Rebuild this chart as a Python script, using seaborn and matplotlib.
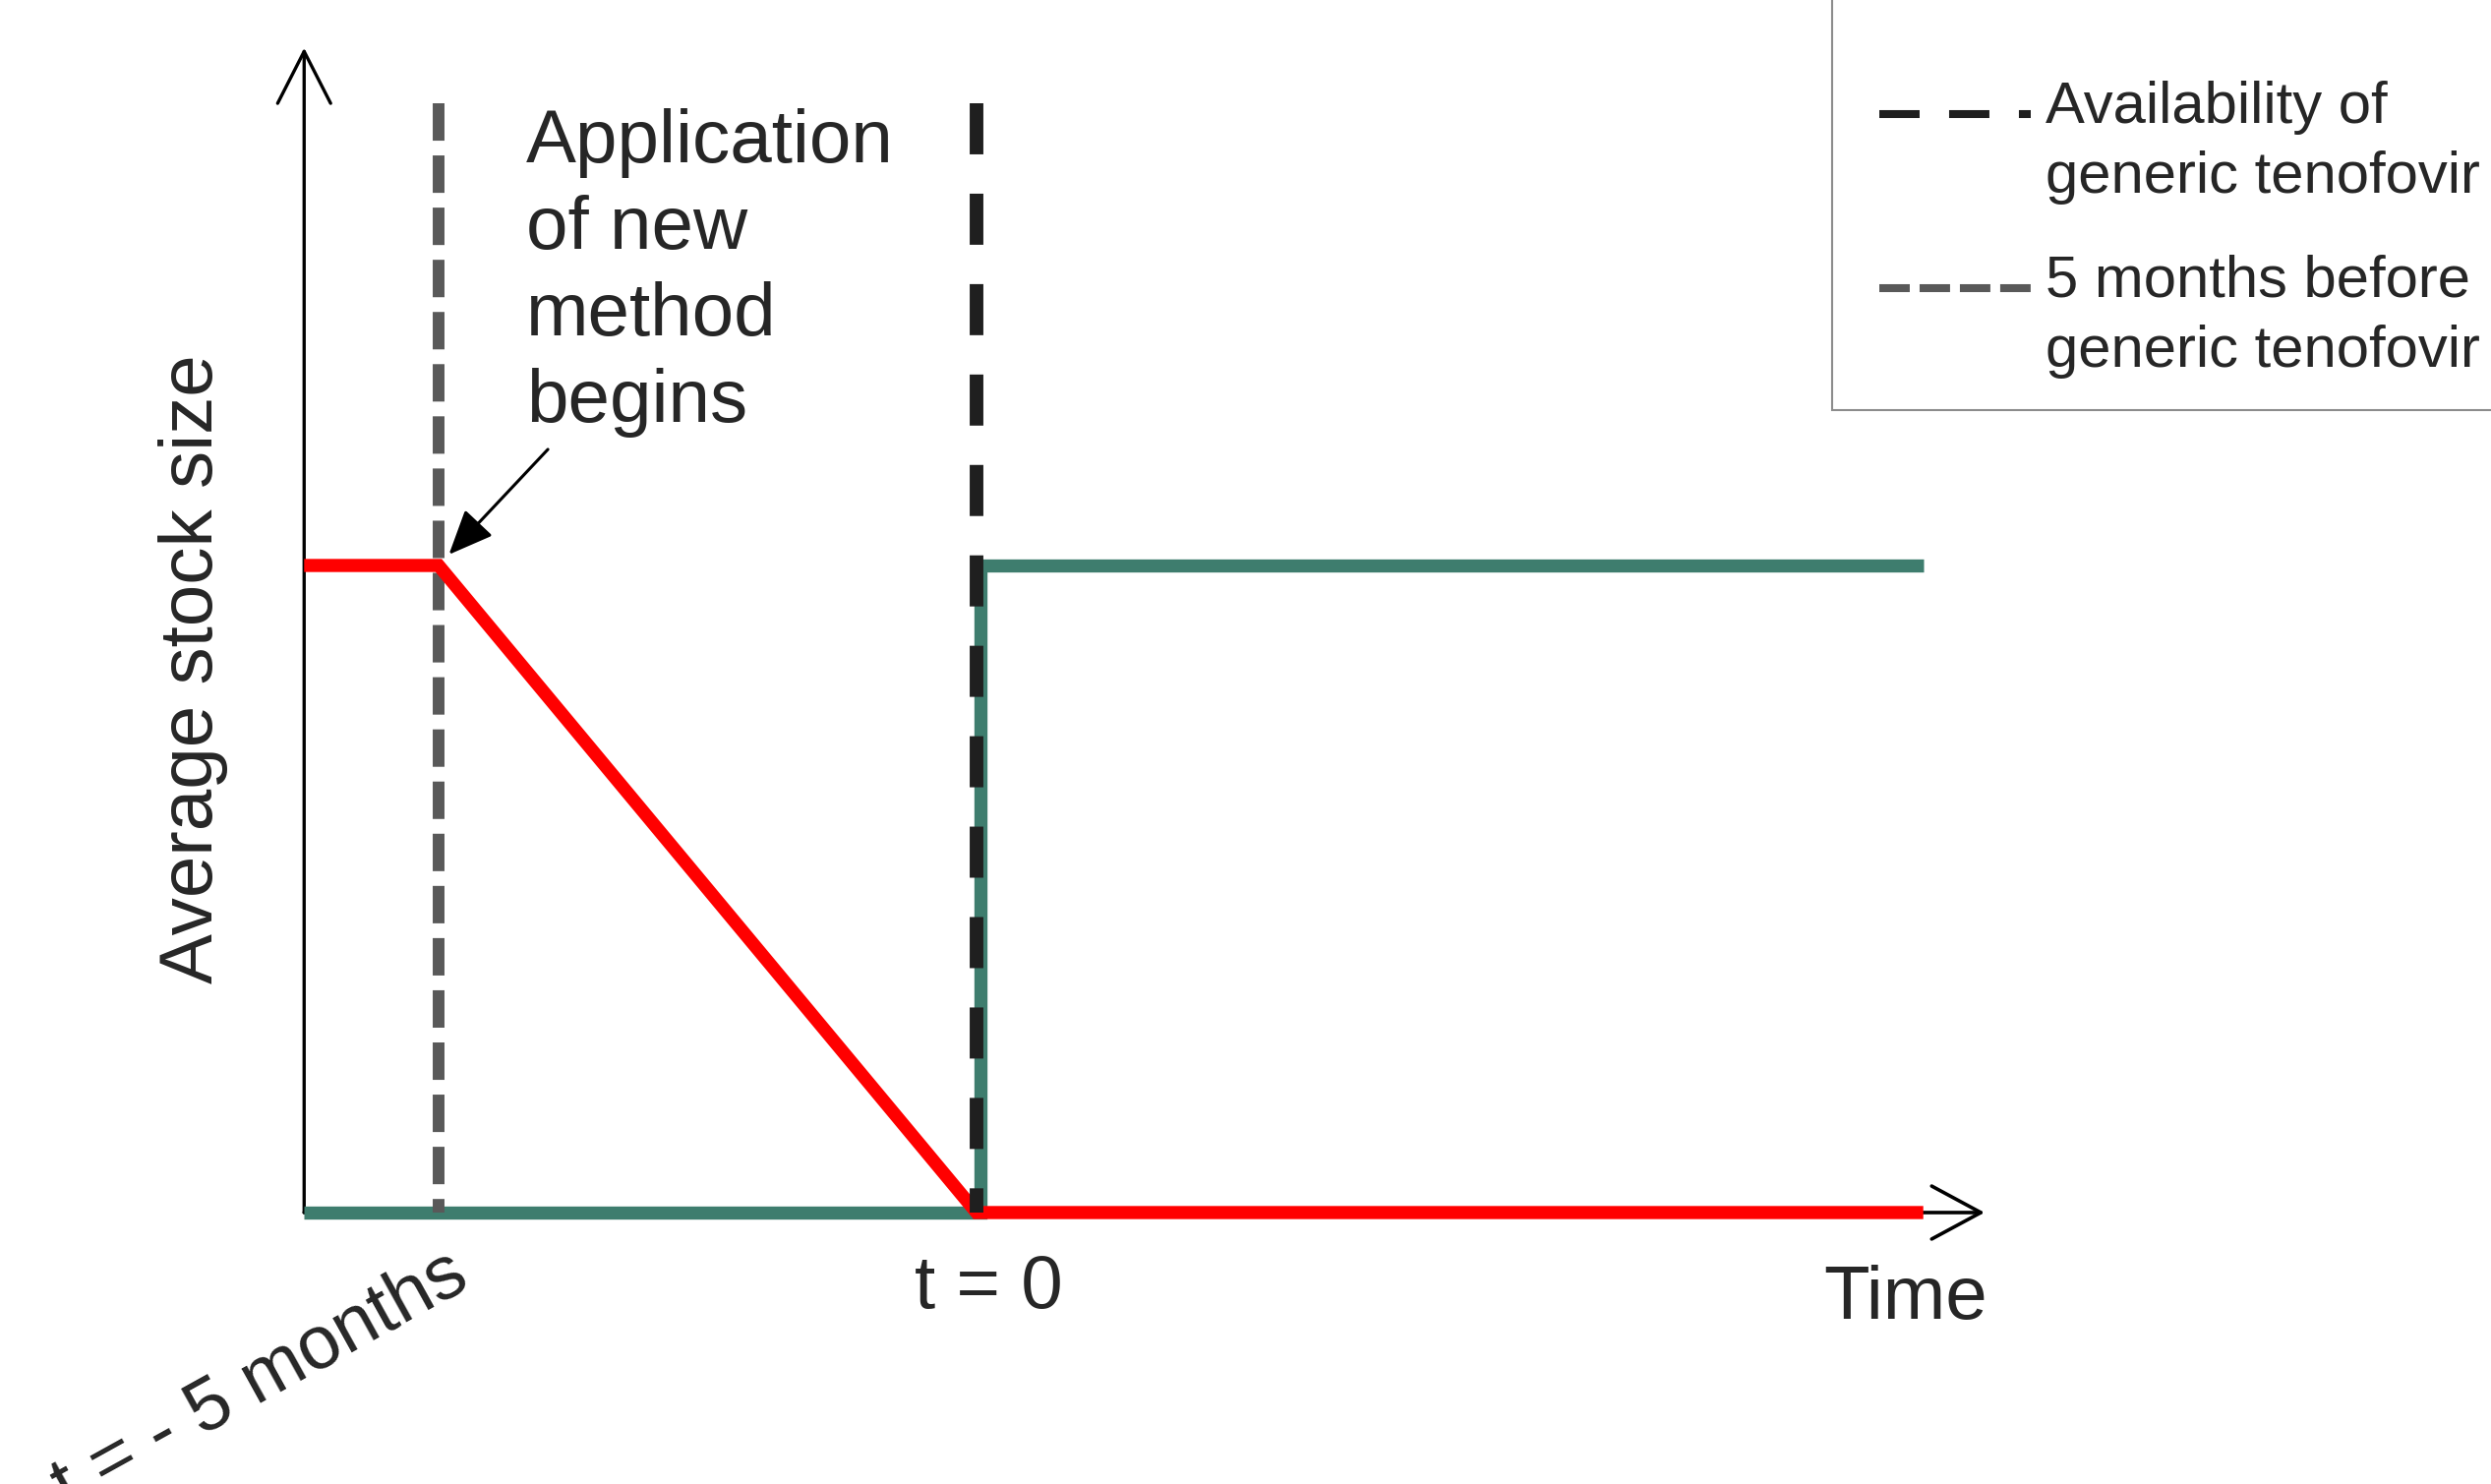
import numpy as np
import pandas as pd
import matplotlib
matplotlib.use("Agg")
import matplotlib.pyplot as plt
from matplotlib.lines import Line2D
from matplotlib.legend_handler import HandlerLine2D
import seaborn as sns

sns.set_style("white")
plt.rcParams['font.family'] = ['Liberation Sans', 'DejaVu Sans']
plt.rcParams['lines.scale_dashes'] = False

# time in months, relative to availability of generic tenofovir
time_old = [-6.25, -5.0, 0.0, 8.8]
stock_old = [1.0, 1.0, 0.0, 0.0]
time_new = [-6.25, 0.04, 0.04, 8.8]
stock_new = [0.0, 0.0, 1.0, 1.0]

t_generic = 0.0
t_before = -5.0
event_top = 1.714

x_label = "Time"
y_label = "Average stock size"
tick_generic = "t = 0"
tick_before = "t = - 5 months"
note = "Application\nof new\nmethod\nbegins"
legend_labels = ["Availability of\ngeneric tenofovir", "5 months before\ngeneric tenofovir"]

RED = "#ff0000"
TEAL = "#3e7d6e"
DARK = "#1f1f1f"
GREY = "#595959"


class FirstLineHandler(HandlerLine2D):
    # legend line sits next to the first line of a two-line label,
    # and starts a bit inside the handle box
    def __init__(self, shift, inset, **kw):
        super().__init__(**kw)
        self.shift = shift
        self.inset = inset

    def create_artists(self, legend, orig_handle, xdescent, ydescent, width, height, fontsize, trans):
        arts = super().create_artists(legend, orig_handle, xdescent, ydescent, width, height, fontsize, trans)
        for a in arts:
            xd = np.array(a.get_xdata(), dtype=float)
            xd[0] += self.inset * fontsize
            a.set_xdata(xd)
            a.set_ydata(np.asarray(a.get_ydata(), dtype=float) + self.shift * fontsize)
        return arts


fig = plt.figure(figsize=(25.33, 15.09), dpi=100)
ax = fig.add_axes([0, 0, 1, 1])
ax.set_xlim(-9.077, 14.077)
ax.set_ylim(-0.4195, 1.8739)
ax.axis("off")

df_old = pd.DataFrame({"time": time_old, "stock": stock_old})
df_new = pd.DataFrame({"time": time_new, "stock": stock_new})

sns.lineplot(data=df_new, x="time", y="stock", sort=False, estimator=None, color=TEAL,
             lw=9.6, ax=ax, zorder=2, solid_capstyle="butt", solid_joinstyle="miter")
ax.plot([t_before, t_before], [event_top, 0], color=GREY, lw=8.6, dashes=(27.4, 10.8), zorder=3)
sns.lineplot(data=df_old, x="time", y="stock", sort=False, estimator=None, color=RED,
             lw=9.6, ax=ax, zorder=4, solid_capstyle="butt", solid_joinstyle="miter")
ax.plot([t_generic, t_generic], [event_top, 0], color=DARK, lw=10, dashes=(37.4, 28.8), zorder=5)

# axes drawn as arrows
t0 = time_old[0]
ax.annotate("", xy=(t0, 1.80), xytext=(t0, 0),
            arrowprops=dict(arrowstyle="->,head_length=38,head_width=19.4", mutation_scale=1,
                            lw=2.4, color="black", shrinkA=0, shrinkB=0), zorder=1)
ax.annotate("", xy=(9.37, 0), xytext=(t0, 0),
            arrowprops=dict(arrowstyle="->,head_length=36,head_width=19.4", mutation_scale=1,
                            lw=2.6, color="black", shrinkA=0, shrinkB=0), zorder=1)

ax.text(-7.28, 0.84, y_label, rotation=90, ha="center", va="center", fontsize=55)
ax.text(9.4, -0.164, x_label, ha="right", va="baseline", fontsize=55)
ax.text(t_generic + 0.11, -0.147, tick_generic, ha="center", va="baseline", fontsize=55)
ax.text(t_before + 0.31, -0.113, tick_before, ha="right", va="baseline", fontsize=55,
        rotation=29, rotation_mode="anchor")

ax.text(-4.19, 1.707, note, ha="left", va="top", fontsize=55, linespacing=1.31)
ax.annotate("", xy=(t_before, 1.0), xytext=(80, 85), textcoords="offset points",
            arrowprops=dict(arrowstyle="-|>,head_length=28,head_width=12", mutation_scale=1,
                            lw=2.2, color="black", shrinkA=0, shrinkB=11))

h1 = Line2D([], [], color=DARK, lw=5.8, dashes=(29.5, 21.6))
h2 = Line2D([], [], color=GREY, lw=5.8, dashes=(22.3, 7.2))
handler = FirstLineHandler(0.5, 0.27)
leg = ax.legend([h1, h2], legend_labels, loc="lower left",
                bbox_to_anchor=(1863 / 2533, 1 - 417 / 1509), bbox_transform=fig.transFigure,
                borderaxespad=0, fontsize=43, handlelength=2.85, handletextpad=0.25,
                borderpad=0.53, labelspacing=0.84, title=" ", title_fontsize=43,
                fancybox=False, framealpha=1, edgecolor="#8c8c8c",
                handler_map={h1: handler, h2: handler})
leg.get_frame().set_linewidth(1.5)
for t in leg.get_texts():
    t.set_linespacing(1.39)

fig.savefig("out.png", dpi=100)
